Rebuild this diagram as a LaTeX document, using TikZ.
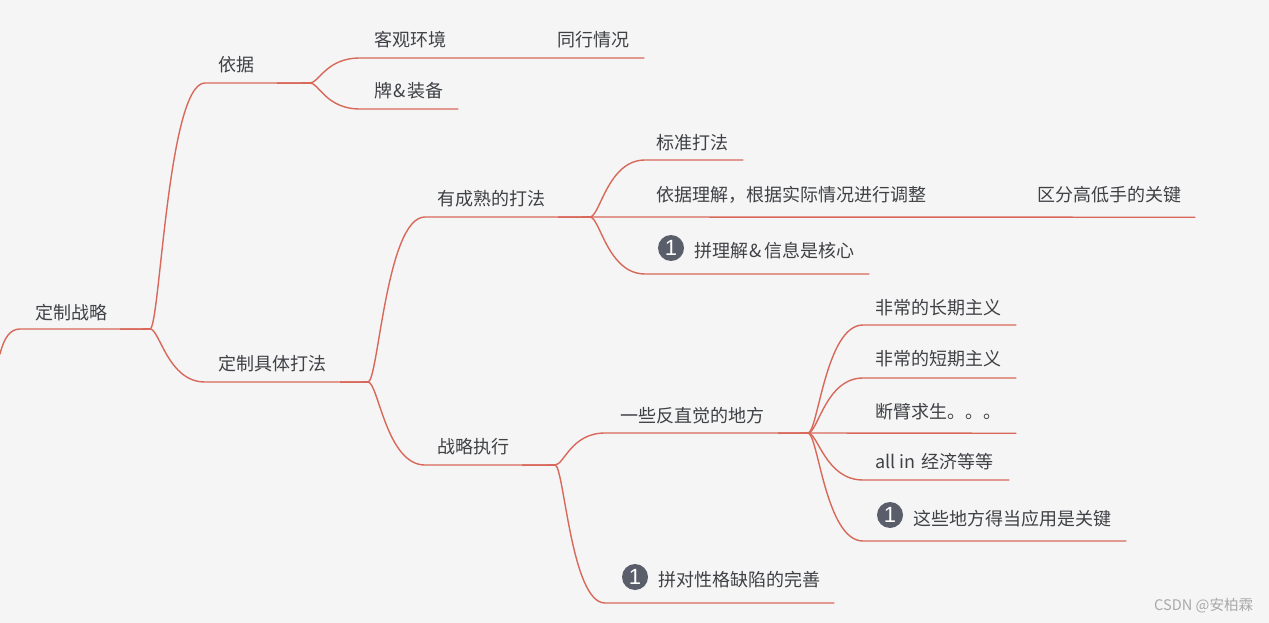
\documentclass[tikz,border=0pt]{standalone}
\usepackage{fontspec}
\setmainfont{Noto Sans CJK SC}
\newfontfamily\latinui{Liberation Sans}
\usetikzlibrary{calc}
\definecolor{bgc}{HTML}{F5F5F5}
\definecolor{linec}{HTML}{D8695A}
\definecolor{textc}{HTML}{3F4145}
\definecolor{badgec}{HTML}{5A5E6B}
\definecolor{markc}{HTML}{A9A9A9}
\tikzset{
  x=1pt, y=-1pt,
  topic/.style={anchor=west, inner sep=0pt, outer sep=0pt, text=textc, font=\fontsize{18}{18}\selectfont},
  badge/.style={circle, fill=badgec, text=white, inner sep=0pt, minimum size=26pt, font=\latinui\fontsize{22}{22}\selectfont},
  branchline/.style={draw=linec, line width=1.4pt, line cap=round},
  stub/.style={draw=linec, line width=1.6pt},
  swoop/.style={to path={let \p1=(\tikztostart), \p2=(\tikztotarget) in
    .. controls (\x1+0.18*\x2-0.18*\x1,\y1) and (\x1+0.32*\x2-0.32*\x1,\y2) .. (\tikztotarget)}},
  watermark/.style={anchor=west, inner sep=0pt, text=markc, font=\fontsize{14.6}{14.6}\selectfont},
}
\begin{document}
\begin{tikzpicture}
\fill[bgc] (0,0) rectangle (1269,623);
\useasboundingbox (0,0) rectangle (1269,623);
% junctions and line ends
\coordinate (rs) at (0,354);
\coordinate (rl) at (20,329);
\coordinate (j0s) at (120,329.2);
\coordinate (j0) at (150,329);
\coordinate (ayl) at (205,83);
\coordinate (j1s) at (277,83.2);
\coordinate (j1) at (310,83);
\coordinate (bl) at (205,382);
\coordinate (j2s) at (340,382.2);
\coordinate (j2) at (368,382);
\coordinate (k1l) at (360,58);
\coordinate (k1r) at (644,58);
\coordinate (k2l) at (360,109);
\coordinate (k2r) at (458,109);
\coordinate (cl) at (425,217);
\coordinate (j3s) at (558,217.2);
\coordinate (j3) at (590,217);
\coordinate (dl) at (425,465);
\coordinate (j4s) at (522,465.2);
\coordinate (j4) at (555,465);
\coordinate (m1l) at (645,160);
\coordinate (m1r) at (743,160);
\coordinate (m2r) at (1195,217.25);
\coordinate (m3l) at (645,274);
\coordinate (m3r) at (869,274);
\coordinate (el) at (605,433);
\coordinate (j5s) at (778,433.2);
\coordinate (j5) at (808,433);
\coordinate (fl) at (605,603);
\coordinate (fr) at (834,603);
\coordinate (n1l) at (863,325);
\coordinate (n1r) at (1016,325);
\coordinate (n2l) at (863,378);
\coordinate (n2r) at (1016,378);
\coordinate (n3r) at (1016,433.25);
\coordinate (n4l) at (863,480);
\coordinate (n4r) at (1009,480);
\coordinate (n5l) at (863,541);
\coordinate (n5r) at (1126,541);
% connectors
\draw[branchline] (rs) .. controls (4,338) and (10,329) .. (rl) -- (j0);
\draw[branchline] (j0) to[swoop] (ayl) -- (j1);
\draw[branchline] (j0) to[swoop] (bl) -- (j2);
\draw[branchline] (j1) to[swoop] (k1l) -- (k1r);
\draw[branchline] (j1) to[swoop] (k2l) -- (k2r);
\draw[branchline] (j2) to[swoop] (cl) -- (j3);
\draw[branchline] (j2) to[swoop] (dl) -- (j4);
\draw[branchline] (j3) to[swoop] (m1l) -- (m1r);
\draw[branchline] (j3) -- (m2r);
\draw[branchline] (j3) to[swoop] (m3l) -- (m3r);
\draw[branchline] (j4) to[swoop] (el) -- (j5);
\draw[branchline] (j4) to[swoop] (fl) -- (fr);
\draw[branchline] (j5) to[swoop] (n1l) -- (n1r);
\draw[branchline] (j5) to[swoop] (n2l) -- (n2r);
\draw[branchline] (j5) -- (n3r);
\draw[branchline] (j5) to[swoop] (n4l) -- (n4r);
\draw[branchline] (j5) to[swoop] (n5l) -- (n5r);
% heavier stretch of each parent line just before its junction
\draw[stub] (j0s) -- (j0);
\draw[stub] (j1s) -- (j1);
\draw[stub] (j2s) -- (j2);
\draw[stub] (j3s) -- (j3);
\draw[stub] (j4s) -- (j4);
\draw[stub] (j5s) -- (j5);
% labels
\node[topic] (root) at (35,313) {定制战略};
\node[topic] (a) at (218.5,65) {依据};
\node[topic] (b) at (218.5,364) {定制具体打法};
\node[topic] (k1) at (374.5,40) {客观环境};
\node[topic] (k1x) at (557.5,40) {同行情况};
\node[topic] (k2) at (374.5,91) {牌\hspace{1pt}\&\hspace{2pt}装备};
\node[topic] (c) at (437,199) {有成熟的打法};
\node[topic] (d) at (437,447) {战略执行};
\node[topic] (m1) at (656.5,143) {标准打法};
\node[topic] (m2) at (656.5,195) {依据理解，根据实际情况进行调整};
\node[topic] (m2x) at (1037.5,195) {区分高低手的关键};
\node[badge] (m3b) at (671,248) {1};
\node[topic] (m3) at (694,251) {拼理解\hspace{1.5pt}\&\hspace{2.5pt}信息是核心};
\node[topic] (e) at (620,416) {一些反直觉的地方};
\node[badge] (fb) at (635,577) {1};
\node[topic] (f) at (658,580) {拼对性格缺陷的完善};
\node[topic] (n1) at (875,308) {非常的长期主义};
\node[topic] (n2) at (875,359) {非常的短期主义};
\node[topic] (n3) at (875,412) {断臂求生。。。};
\node[topic] (n4) at (875,462) {all in\hspace{2pt} 经济等等};
\node[badge] (n5b) at (890,515) {1};
\node[topic] (n5) at (913,519) {这些地方得当应用是关键};
\node[watermark] (wm) at (1154,606) {CSDN @安柏霖};
\end{tikzpicture}
\end{document}
